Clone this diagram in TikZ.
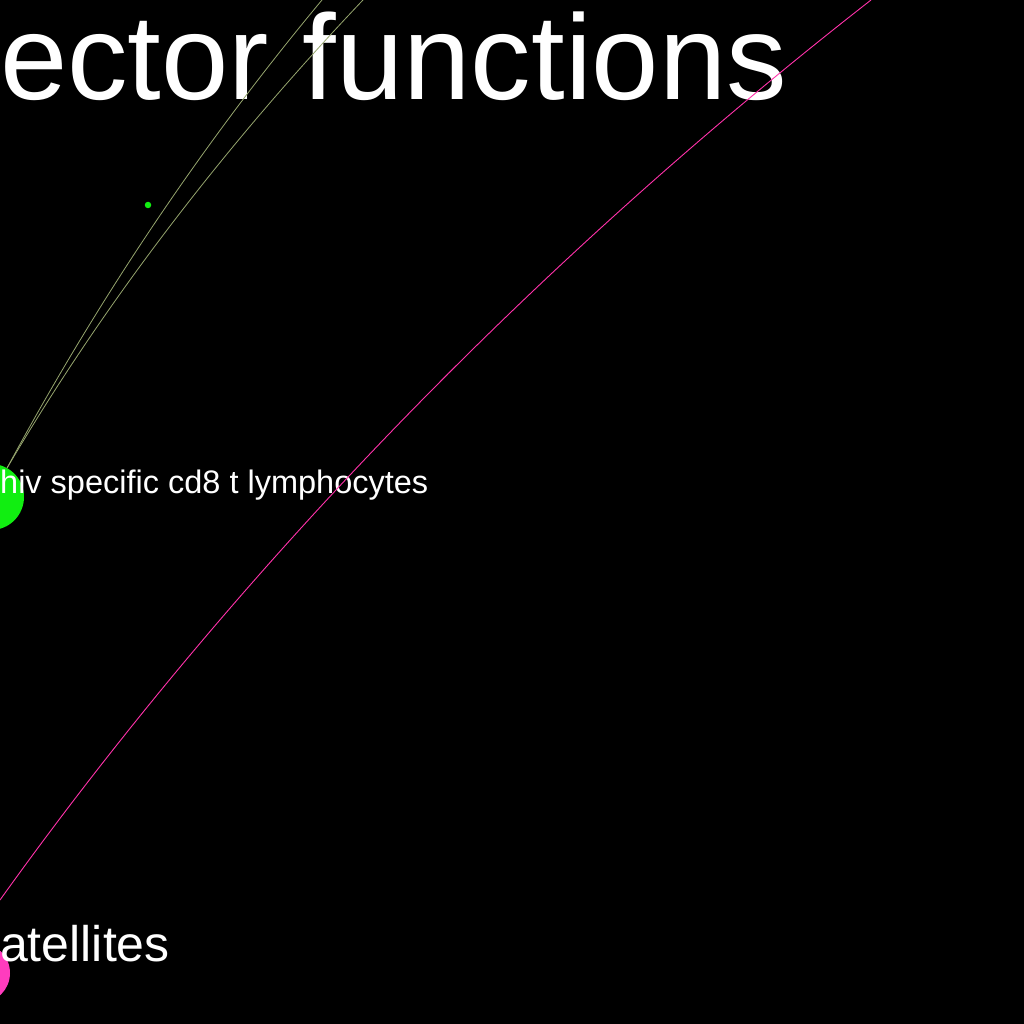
\documentclass[tikz,border=0pt]{standalone}
\usepackage{fontspec}
\setmainfont{Liberation Sans}
\definecolor{nodegreen}{RGB}{17,238,17}
\definecolor{nodepink}{RGB}{255,60,190}
\definecolor{edgegreen}{RGB}{150,165,110}
\definecolor{edgepink}{RGB}{255,50,170}
\begin{document}
\begin{tikzpicture}[x=1pt,y=-1pt,
  gnode/.style={circle,fill=nodegreen,draw=none,inner sep=0pt},
  pnode/.style={circle,fill=nodepink,draw=none,inner sep=0pt},
  lab/.style={text=white,inner sep=0pt,anchor=base west},
  gedge/.style={draw=edgegreen,line width=0.8pt},
  pedge/.style={draw=edgepink,line width=0.9pt}]
\useasboundingbox[fill=black] (0,0) rectangle (1024,1024);
% nodes
\node[gnode,minimum size=66pt] (hiv) at (-9,497) {};
\node[pnode,minimum size=60pt] (sat) at (-20,973) {};
\node[gnode,minimum size=6.5pt] (dot) at (148,205) {};
% labels
\node[lab,font=\fontsize{121}{121}\selectfont] (title) at (0,100) {ector functions};
\node[lab,font=\fontsize{32.5}{32.5}\selectfont] (hivlab) at (0,493) {hiv specific cd8 t lymphocytes};
\node[lab,font=\fontsize{50}{50}\selectfont] (satlab) at (0,961) {atellites};
% edge ends off the picture
\coordinate (c1) at (322,0);
\coordinate (c2) at (363,0);
\coordinate (p0) at (0,900);
\coordinate (p1) at (871,0);
% edges
\draw[gedge] (hiv.61) .. controls (97,301) and (202,144) .. (c1);
\draw[gedge] (hiv.61) .. controls (107,298) and (229,141) .. (c2);
\draw[pedge] (p0) .. controls (241,563) and (544,255) .. (p1);
\end{tikzpicture}
\end{document}
